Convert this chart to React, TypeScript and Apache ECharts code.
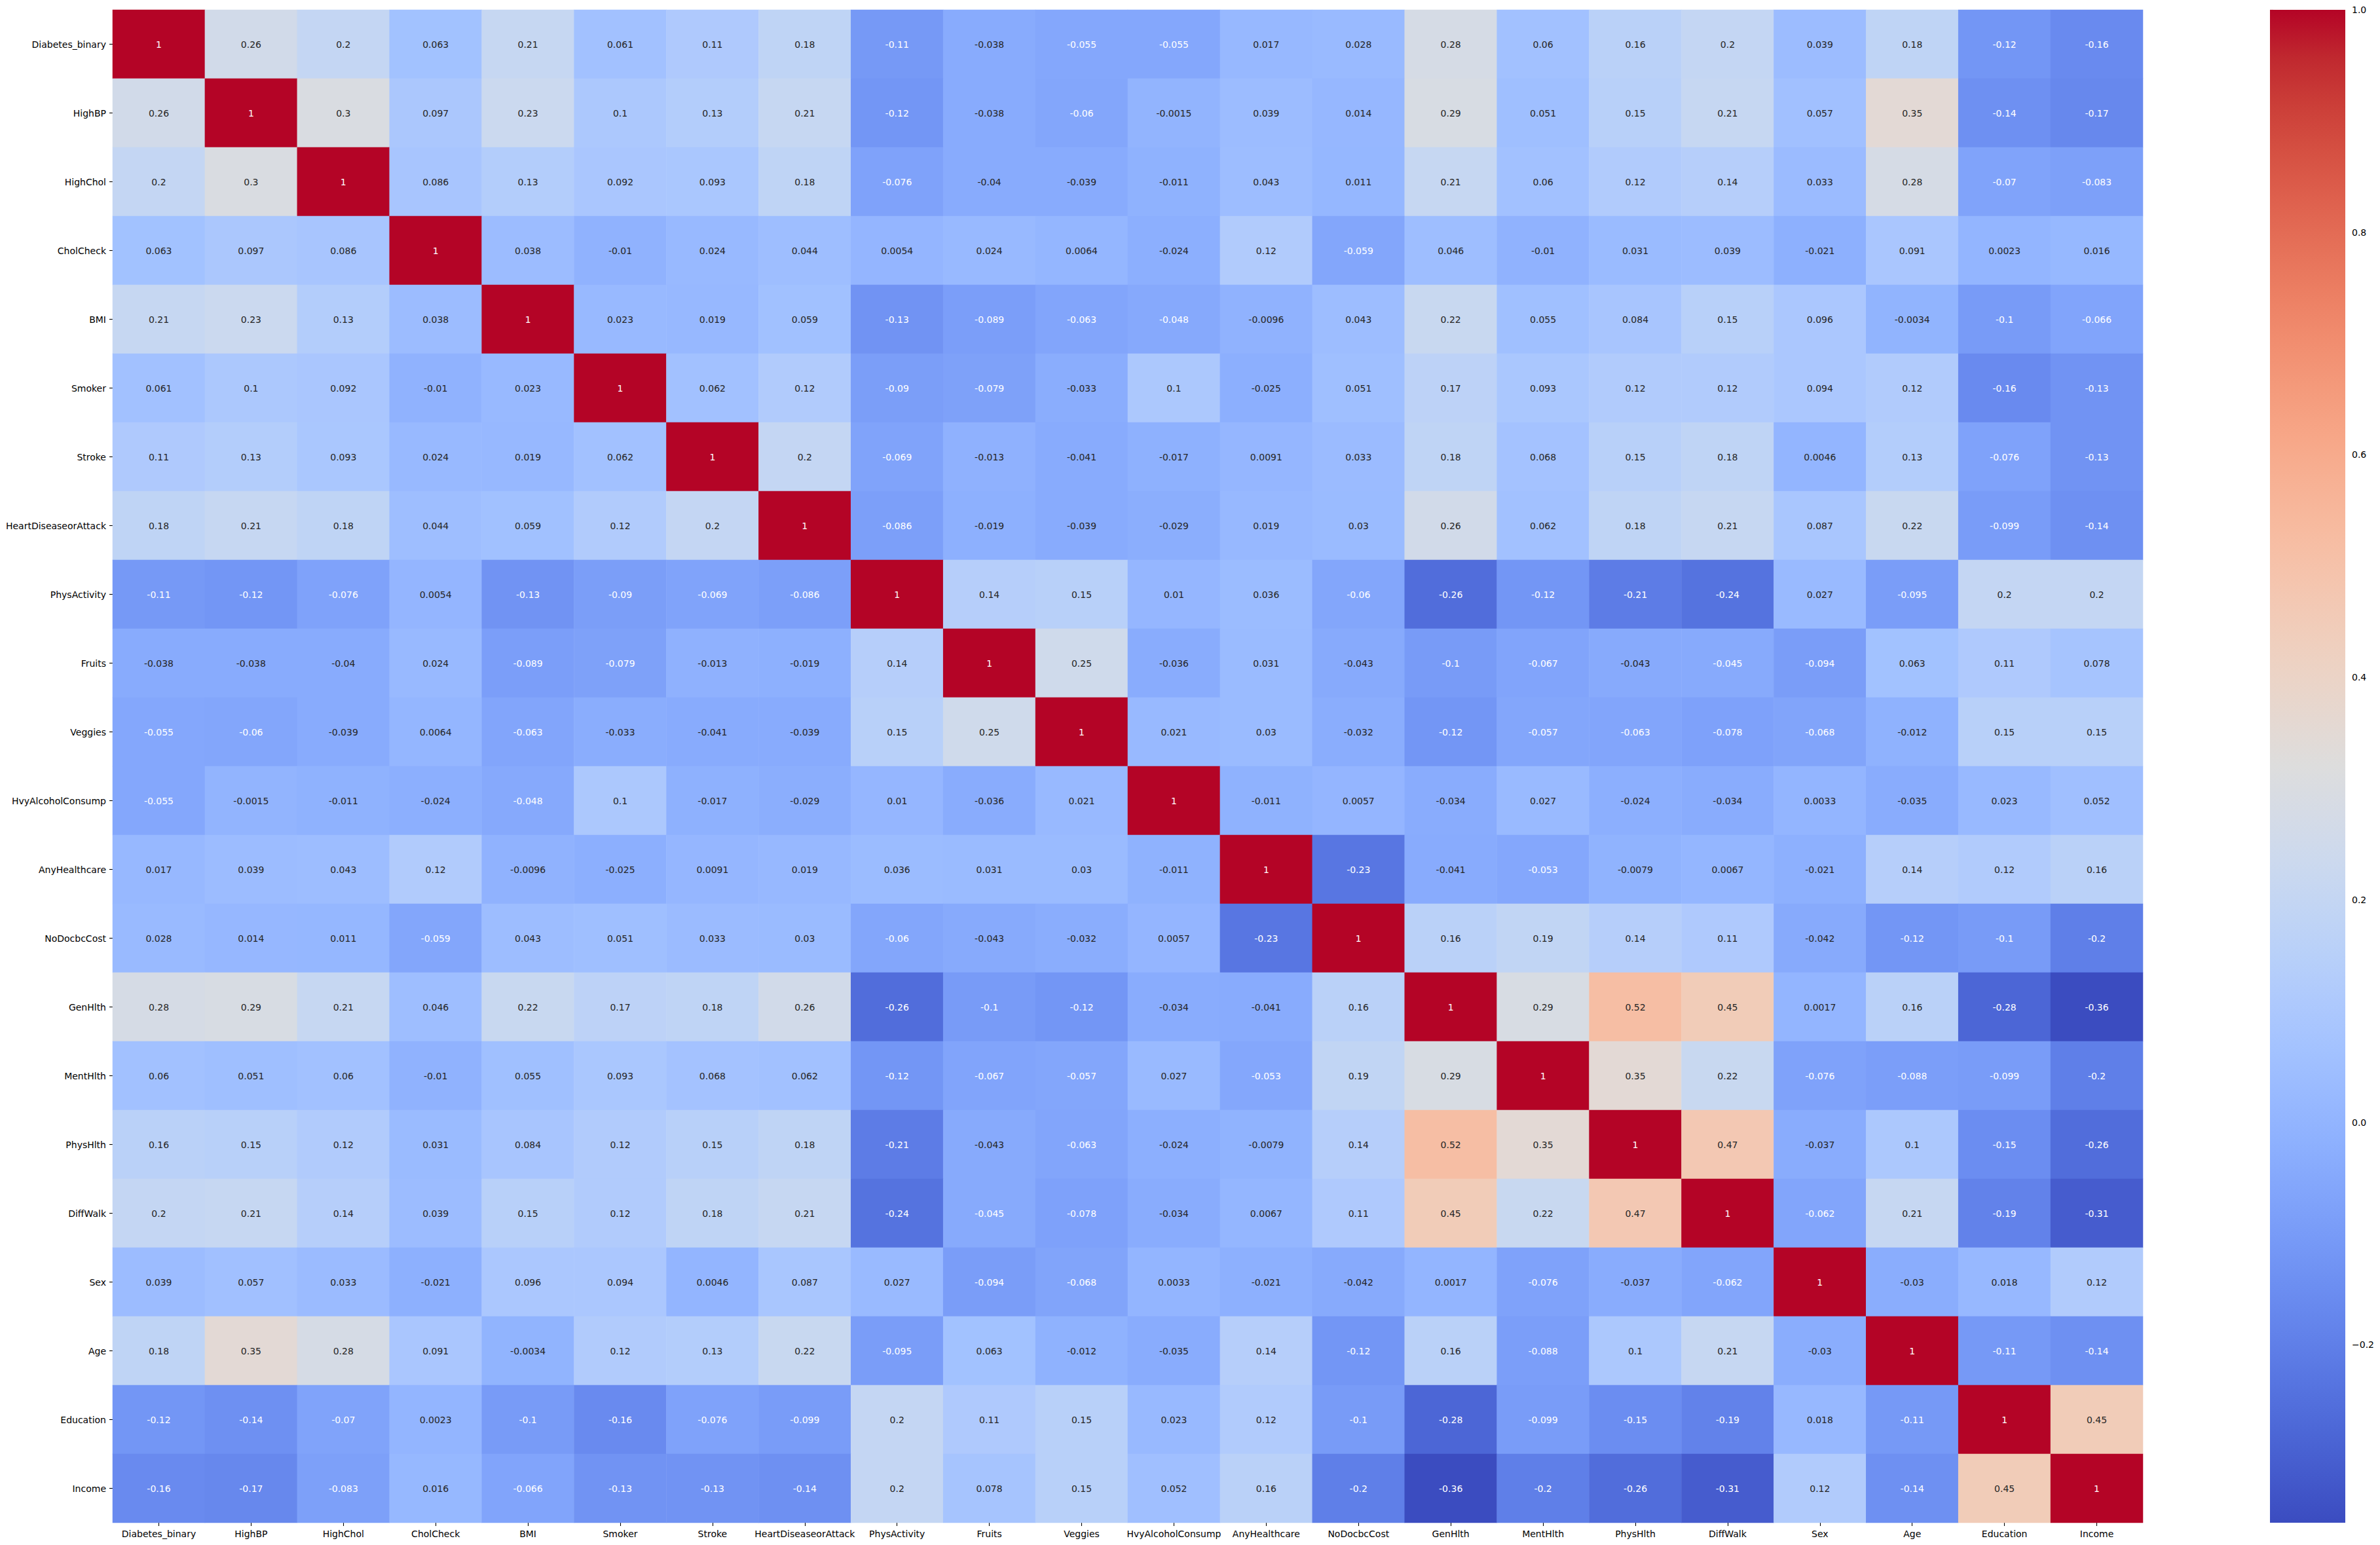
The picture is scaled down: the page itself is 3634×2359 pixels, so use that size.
import React, { useEffect, useRef } from "react";
import * as echarts from "echarts";

const features = [
  "Diabetes_binary", "HighBP", "HighChol", "CholCheck", "BMI", "Smoker", "Stroke",
  "HeartDiseaseorAttack", "PhysActivity", "Fruits", "Veggies", "HvyAlcoholConsump",
  "AnyHealthcare", "NoDocbcCost", "GenHlth", "MentHlth", "PhysHlth", "DiffWalk",
  "Sex", "Age", "Education", "Income",
];

const rowDiabetes = [1, 0.26, 0.2, 0.063, 0.21, 0.061, 0.11, 0.18, -0.11, -0.038, -0.055, -0.055, 0.017, 0.028, 0.28, 0.06, 0.16, 0.2, 0.039, 0.18, -0.12, -0.16];
const rowHighBP = [0.26, 1, 0.3, 0.097, 0.23, 0.1, 0.13, 0.21, -0.12, -0.038, -0.06, -0.0015, 0.039, 0.014, 0.29, 0.051, 0.15, 0.21, 0.057, 0.35, -0.14, -0.17];
const rowHighChol = [0.2, 0.3, 1, 0.086, 0.13, 0.092, 0.093, 0.18, -0.076, -0.04, -0.039, -0.011, 0.043, 0.011, 0.21, 0.06, 0.12, 0.14, 0.033, 0.28, -0.07, -0.083];
const rowCholCheck = [0.063, 0.097, 0.086, 1, 0.038, -0.01, 0.024, 0.044, 0.0054, 0.024, 0.0064, -0.024, 0.12, -0.059, 0.046, -0.01, 0.031, 0.039, -0.021, 0.091, 0.0023, 0.016];
const rowBMI = [0.21, 0.23, 0.13, 0.038, 1, 0.023, 0.019, 0.059, -0.13, -0.089, -0.063, -0.048, -0.0096, 0.043, 0.22, 0.055, 0.084, 0.15, 0.096, -0.0034, -0.1, -0.066];
const rowSmoker = [0.061, 0.1, 0.092, -0.01, 0.023, 1, 0.062, 0.12, -0.09, -0.079, -0.033, 0.1, -0.025, 0.051, 0.17, 0.093, 0.12, 0.12, 0.094, 0.12, -0.16, -0.13];
const rowStroke = [0.11, 0.13, 0.093, 0.024, 0.019, 0.062, 1, 0.2, -0.069, -0.013, -0.041, -0.017, 0.0091, 0.033, 0.18, 0.068, 0.15, 0.18, 0.0046, 0.13, -0.076, -0.13];
const rowHeart = [0.18, 0.21, 0.18, 0.044, 0.059, 0.12, 0.2, 1, -0.086, -0.019, -0.039, -0.029, 0.019, 0.03, 0.26, 0.062, 0.18, 0.21, 0.087, 0.22, -0.099, -0.14];
const rowPhysActivity = [-0.11, -0.12, -0.076, 0.0054, -0.13, -0.09, -0.069, -0.086, 1, 0.14, 0.15, 0.01, 0.036, -0.06, -0.26, -0.12, -0.21, -0.24, 0.027, -0.095, 0.2, 0.2];
const rowFruits = [-0.038, -0.038, -0.04, 0.024, -0.089, -0.079, -0.013, -0.019, 0.14, 1, 0.25, -0.036, 0.031, -0.043, -0.1, -0.067, -0.043, -0.045, -0.094, 0.063, 0.11, 0.078];
const rowVeggies = [-0.055, -0.06, -0.039, 0.0064, -0.063, -0.033, -0.041, -0.039, 0.15, 0.25, 1, 0.021, 0.03, -0.032, -0.12, -0.057, -0.063, -0.078, -0.068, -0.012, 0.15, 0.15];
const rowHvyAlcohol = [-0.055, -0.0015, -0.011, -0.024, -0.048, 0.1, -0.017, -0.029, 0.01, -0.036, 0.021, 1, -0.011, 0.0057, -0.034, 0.027, -0.024, -0.034, 0.0033, -0.035, 0.023, 0.052];
const rowAnyHealthcare = [0.017, 0.039, 0.043, 0.12, -0.0096, -0.025, 0.0091, 0.019, 0.036, 0.031, 0.03, -0.011, 1, -0.23, -0.041, -0.053, -0.0079, 0.0067, -0.021, 0.14, 0.12, 0.16];
const rowNoDocbcCost = [0.028, 0.014, 0.011, -0.059, 0.043, 0.051, 0.033, 0.03, -0.06, -0.043, -0.032, 0.0057, -0.23, 1, 0.16, 0.19, 0.14, 0.11, -0.042, -0.12, -0.1, -0.2];
const rowGenHlth = [0.28, 0.29, 0.21, 0.046, 0.22, 0.17, 0.18, 0.26, -0.26, -0.1, -0.12, -0.034, -0.041, 0.16, 1, 0.29, 0.52, 0.45, 0.0017, 0.16, -0.28, -0.36];
const rowMentHlth = [0.06, 0.051, 0.06, -0.01, 0.055, 0.093, 0.068, 0.062, -0.12, -0.067, -0.057, 0.027, -0.053, 0.19, 0.29, 1, 0.35, 0.22, -0.076, -0.088, -0.099, -0.2];
const rowPhysHlth = [0.16, 0.15, 0.12, 0.031, 0.084, 0.12, 0.15, 0.18, -0.21, -0.043, -0.063, -0.024, -0.0079, 0.14, 0.52, 0.35, 1, 0.47, -0.037, 0.1, -0.15, -0.26];
const rowDiffWalk = [0.2, 0.21, 0.14, 0.039, 0.15, 0.12, 0.18, 0.21, -0.24, -0.045, -0.078, -0.034, 0.0067, 0.11, 0.45, 0.22, 0.47, 1, -0.062, 0.21, -0.19, -0.31];
const rowSex = [0.039, 0.057, 0.033, -0.021, 0.096, 0.094, 0.0046, 0.087, 0.027, -0.094, -0.068, 0.0033, -0.021, -0.042, 0.0017, -0.076, -0.037, -0.062, 1, -0.03, 0.018, 0.12];
const rowAge = [0.18, 0.35, 0.28, 0.091, -0.0034, 0.12, 0.13, 0.22, -0.095, 0.063, -0.012, -0.035, 0.14, -0.12, 0.16, -0.088, 0.1, 0.21, -0.03, 1, -0.11, -0.14];
const rowEducation = [-0.12, -0.14, -0.07, 0.0023, -0.1, -0.16, -0.076, -0.099, 0.2, 0.11, 0.15, 0.023, 0.12, -0.1, -0.28, -0.099, -0.15, -0.19, 0.018, -0.11, 1, 0.45];
const rowIncome = [-0.16, -0.17, -0.083, 0.016, -0.066, -0.13, -0.13, -0.14, 0.2, 0.078, 0.15, 0.052, 0.16, -0.2, -0.36, -0.2, -0.26, -0.31, 0.12, -0.14, 0.45, 1];

const matrixRows = [
  rowDiabetes, rowHighBP, rowHighChol, rowCholCheck, rowBMI, rowSmoker, rowStroke,
  rowHeart, rowPhysActivity, rowFruits, rowVeggies, rowHvyAlcohol, rowAnyHealthcare,
  rowNoDocbcCost, rowGenHlth, rowMentHlth, rowPhysHlth, rowDiffWalk, rowSex, rowAge,
  rowEducation, rowIncome,
];

const colorbarTicks = [-0.2, 0, 0.2, 0.4, 0.6, 0.8, 1.0];

// matplotlib "coolwarm" colormap samples (33 evenly spaced)
const coolwarm: number[][] = [
  [0.2298057, 0.298717966, 0.753683153], [0.26623388, 0.353094838, 0.801466763],
  [0.30386891, 0.406535296, 0.84495867], [0.342804478, 0.458757618, 0.883725899],
  [0.38301334, 0.50941904, 0.917387822], [0.424369608, 0.558148092, 0.945619588],
  [0.46666708, 0.604562568, 0.968154911], [0.509635204, 0.648280772, 0.98478814],
  [0.552953156, 0.688929332, 0.995375608], [0.596262162, 0.726149107, 0.999836203],
  [0.639176211, 0.759599947, 0.998151185], [0.681291281, 0.788964712, 0.990363227],
  [0.722193294, 0.813952739, 0.976574709], [0.761464949, 0.834302879, 0.956945269],
  [0.798691636, 0.849786142, 0.931688648], [0.833466556, 0.860207984, 0.901068838],
  [0.865395197, 0.86541021, 0.865395561], [0.897787179, 0.848937047, 0.820880546],
  [0.924127593, 0.827384882, 0.774508472], [0.944468518, 0.800927443, 0.726736146],
  [0.958852946, 0.769767752, 0.678007945], [0.96732803, 0.734132809, 0.628751763],
  [0.969954137, 0.694266682, 0.579375448], [0.966811177, 0.650421156, 0.530263762],
  [0.958003065, 0.602842431, 0.481775914], [0.943660866, 0.551750968, 0.434243684],
  [0.923944917, 0.49730856, 0.387970225], [0.89904617, 0.439559467, 0.343229596],
  [0.869186849, 0.378313092, 0.300267182], [0.834620542, 0.312874446, 0.259301199],
  [0.795631745, 0.24128379, 0.220525627], [0.752534934, 0.157246067, 0.184115123],
  [0.705673158, 0.01555616, 0.150232812],
];

function toHex(c: number[]) {
  return "#" + c.map((v) => Math.round(v * 255).toString(16).padStart(2, "0")).join("");
}
const paletteHex = coolwarm.map(toHex);

function fmt2g(v: number) {
  let s = v.toPrecision(2);
  if (s.indexOf("e") >= 0) s = String(Number(s));
  if (s.indexOf(".") >= 0) s = s.replace(/0+$/, "").replace(/\.$/, "");
  return s;
}

const FONT = "'DejaVu Sans', sans-serif";

export default function App() {
  const ref = useRef<HTMLDivElement>(null);

  useEffect(() => {
    if (!ref.current) return;
    const chart = echarts.init(ref.current, null, { renderer: "svg" });

    const all = matrixRows.flat();
    const vmin = Math.min(...all);
    const vmax = Math.max(...all);

    const data: any[] = [];
    matrixRows.forEach((row, i) => {
      row.forEach((v, j) => {
        const white = v < -0.044 || v > 0.8;
        data.push({
          value: [j, i, v],
          label: { color: white ? "#ffffff" : "#262626" },
        });
      });
    });

    const stops = paletteHex.map((c, k) => ({ offset: k / (paletteHex.length - 1), color: c }));

    const option: any = {
      animation: false,
      backgroundColor: "#ffffff",
      grid: [
        { left: 172, top: 15, width: 3100, height: 2310 },
        { left: 3466, top: 15, width: 115, height: 2310 },
      ],
      xAxis: [
        {
          type: "category",
          gridIndex: 0,
          data: features,
          position: "bottom",
          axisLine: { show: false },
          axisTick: { show: true, alignWithLabel: true, length: 5, lineStyle: { color: "#000", width: 1.1 } },
          axisLabel: { interval: 0, margin: 10, color: "#000", fontFamily: FONT, fontSize: 14 },
          splitLine: { show: false },
        },
        { type: "value", gridIndex: 1, min: 0, max: 1, show: false },
      ],
      yAxis: [
        {
          type: "category",
          gridIndex: 0,
          data: features,
          inverse: true,
          axisLine: { show: false },
          axisTick: { show: true, alignWithLabel: true, length: 5, lineStyle: { color: "#000", width: 1.1 } },
          axisLabel: { interval: 0, margin: 10, color: "#000", fontFamily: FONT, fontSize: 14 },
          splitLine: { show: false },
        },
        {
          type: "value",
          gridIndex: 1,
          position: "right",
          min: vmin,
          max: vmax,
          axisLine: { show: false },
          splitLine: { show: false },
          axisTick: {
            show: true,
            length: 5,
            customValues: colorbarTicks,
            lineStyle: { color: "#000", width: 1.1 },
          },
          axisLabel: {
            customValues: colorbarTicks,
            margin: 10,
            color: "#000",
            fontFamily: FONT,
            fontSize: 14,
            formatter: (v: number) => v.toFixed(1).replace("-", "\u2212"),
          },
        },
      ],
      visualMap: {
        type: "continuous",
        show: false,
        min: vmin,
        max: vmax,
        dimension: 2,
        seriesIndex: 0,
        inRange: { color: paletteHex },
      },
      series: [
        {
          type: "heatmap",
          xAxisIndex: 0,
          yAxisIndex: 0,
          data,
          label: {
            show: true,
            fontFamily: FONT,
            fontSize: 14,
            formatter: (p: any) => fmt2g(p.value[2]),
          },
          itemStyle: { borderWidth: 0 },
          emphasis: { disabled: true },
        },
        {
          type: "custom",
          xAxisIndex: 1,
          yAxisIndex: 1,
          silent: true,
          data: [[0, 1, vmin, vmax]],
          renderItem: (params: any, api: any) => {
            const p0 = api.coord([api.value(0), api.value(2)]);
            const p1 = api.coord([api.value(1), api.value(3)]);
            return {
              type: "rect",
              shape: { x: p0[0], y: p1[1], width: p1[0] - p0[0], height: p0[1] - p1[1] },
              style: { fill: new echarts.graphic.LinearGradient(0, 1, 0, 0, stops) },
            };
          },
        },
      ],
    };

    chart.setOption(option);
    return () => chart.dispose();
  }, []);

  return (
    <div
      ref={ref}
      style={{ position: "fixed", left: 0, top: 0, width: 3634, height: 2359, background: "#fff" }}
    />
  );
}
